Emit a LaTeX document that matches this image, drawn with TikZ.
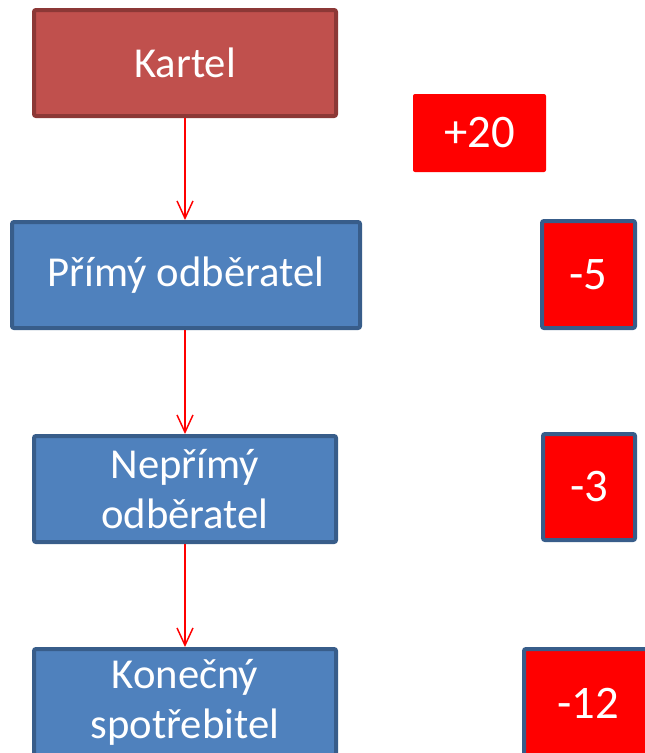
\documentclass[tikz,border=0pt]{standalone}
\usepackage{fontspec}
\setmainfont{Carlito}
\usetikzlibrary{arrows.meta}
\definecolor{modra}{HTML}{4F81BD}
\definecolor{modrahr}{HTML}{385D8A}
\definecolor{cihla}{HTML}{C0504D}
\definecolor{cihlahr}{HTML}{8C3836}
\tikzset{
  krok/.style={rectangle,rounded corners=1.5pt,fill=modra,draw=modrahr,line width=3pt,text=white,font=\fontsize{32}{37.5}\selectfont,align=center,minimum height=79.5pt},
  cislo/.style={rectangle,rounded corners=1.5pt,fill=red,draw=modrahr,line width=3pt,text=white,font=\fontsize{35}{40}\selectfont},
  sipka/.style={red,line width=1.1pt,-{Straight Barb[length=13pt,width=12pt,line width=1.1pt]}}
}
\begin{document}
\begin{tikzpicture}[x=0.75pt,y=-0.75pt]
				\useasboundingbox (0,0) rectangle (645,753);
				\clip (0,0) rectangle (645,753);
				% Boxy
				\node [krok,fill=cihla,draw=cihlahr,minimum width=226.5pt] (kartel) at (185,63) {Kartel};
				\node [krok,minimum width=261pt] (primy) at (186,275) {Přímý odběratel};
				\node [krok,minimum width=226.5pt] (neprimy) at (185,489) {Nepřímý\\odběratel};
				\node [krok,minimum width=226.5pt] (konecny) at (185,702) {Konečný\\spotřebitel};
				% Cisla
				\node [cislo,draw=none,minimum width=99.75pt,minimum height=58.5pt] (plus) at (479.5,133) {+20};
				\node [cislo,minimum width=69.75pt,minimum height=80.25pt] (m5) at (588.5,274.5) {-5};
				\node [cislo,minimum width=69pt,minimum height=79.5pt] (m3) at (589,487) {-3};
				\node [cislo,minimum width=96pt,minimum height=81pt] (m12) at (588,703) {-12};
				% Sipky
				\draw [sipka] (kartel) -- (primy.north -| kartel);
				\draw [sipka] (primy.south -| neprimy) -- (neprimy);
				\draw [sipka] (neprimy) -- (konecny);
\end{tikzpicture}
\end{document}
